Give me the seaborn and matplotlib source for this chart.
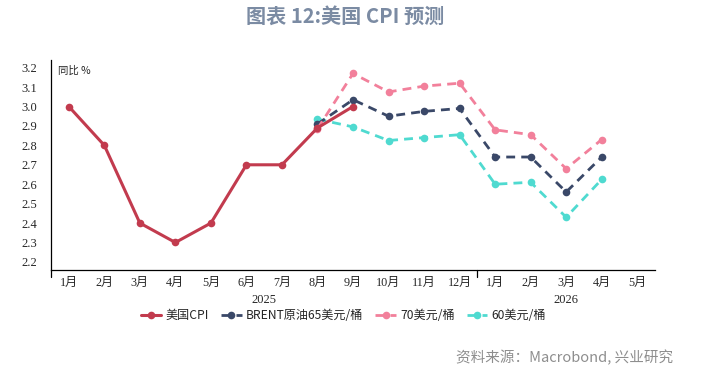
import numpy as np
import pandas as pd
import seaborn as sns
import matplotlib.pyplot as plt
import matplotlib.transforms as mtransforms

# 月份 (2025年1月 - 2026年5月)
months = ['1月', '2月', '3月', '4月', '5月', '6月', '7月', '8月', '9月', '10月', '11月', '12月',
          '1月', '2月', '3月', '4月', '5月']
years = ['2025', '2026']

# 美国CPI 实际值 (2025年1月-9月)
cpi = [3.0, 2.8, 2.4, 2.3, 2.4, 2.7, 2.7, 2.89, 3.0]
# 预测 (2025年8月 - 2026年4月)
brent65 = [2.91, 3.035, 2.95, 2.975, 2.99, 2.74, 2.74, 2.56, 2.74]
brent70 = [2.885, 3.17, 3.075, 3.105, 3.12, 2.88, 2.855, 2.68, 2.83]
brent60 = [2.935, 2.895, 2.825, 2.84, 2.855, 2.60, 2.61, 2.43, 2.625]

sns.set_style('white')
plt.rcParams['font.family'] = ['Liberation Serif', 'Noto Sans CJK SC', 'DejaVu Sans']
plt.rcParams['axes.unicode_minus'] = False

fig = plt.figure(figsize=(7.01, 3.72), dpi=100)
ax = fig.add_axes([0.0728, 0.274, 0.8616, 0.565])

x_cpi = np.arange(len(cpi))
x_fc = np.arange(7, 7 + len(brent65))

cols = {'cpi': '#C23B4E', 'b65': '#3A4868', 'b70': '#F2809B', 'b60': '#4FDAD0'}
dash = (0, (3.2, 2.2))

sns.lineplot(x=x_fc, y=brent60, ax=ax, color=cols['b60'], lw=2, marker='o', markersize=5.5,
             markeredgewidth=0, linestyle=dash, label='60美元/桶', zorder=3)
sns.lineplot(x=x_fc, y=brent65, ax=ax, color=cols['b65'], lw=2, marker='o', markersize=5.5,
             markeredgewidth=0, linestyle=dash, label='BRENT原油65美元/桶', zorder=4)
sns.lineplot(x=x_fc, y=brent70, ax=ax, color=cols['b70'], lw=2, marker='o', markersize=5.5,
             markeredgewidth=0, linestyle=dash, label='70美元/桶', zorder=5)
sns.lineplot(x=x_cpi, y=cpi, ax=ax, color=cols['cpi'], lw=2.2, marker='o', markersize=5.5,
             markeredgewidth=0, label='美国CPI', zorder=6)

ax.set_xlim(-0.5, len(months) - 0.5)
ax.set_ylim(2.158, 3.24)
ax.set_yticks(np.arange(2.2, 3.21, 0.1))
ax.set_yticklabels([f'{v:.1f}' for v in np.arange(2.2, 3.21, 0.1)], fontsize=9)
ax.set_xticks(np.arange(len(months)))
ax.set_xticklabels(months, fontsize=8.7)
ax.set_xticks(np.arange(len(months) + 1) - 0.5, minor=True)
ax.tick_params(axis='x', which='major', length=0, pad=5)
ax.tick_params(axis='x', which='minor', length=3, width=0.8, direction='out', color='black')
ax.tick_params(axis='y', length=4, width=0.8, direction='out', color='black', pad=6)

for s in ['top', 'right']:
    ax.spines[s].set_visible(False)
for s in ['left', 'bottom']:
    ax.spines[s].set_color('black')
    ax.spines[s].set_linewidth(0.9)

ax.set_xlabel('')
ax.set_ylabel('')
ax.text(0.012, 0.975, '同比 %', transform=ax.transAxes, fontsize=7.5,
        family=['Noto Sans CJK SC'], va='top', ha='left')

# 年份分组
trans = mtransforms.blended_transform_factory(ax.transData, ax.transAxes)
for xb in [-0.5, 11.5]:
    ax.plot([xb, xb], [0, -0.035], transform=trans, color='black', lw=0.9, clip_on=False)
ax.text(5.5, -0.143, years[0], transform=trans, ha='center', va='center', fontsize=9)
ax.text(14, -0.143, years[1], transform=trans, ha='center', va='center', fontsize=9)

# 图例
handles, labels = ax.get_legend_handles_labels()
order = [3, 1, 2, 0]
ax.legend([handles[i] for i in order], [labels[i] for i in order], ncol=4, frameon=False,
          loc='center', bbox_to_anchor=(0.49, 0.152), bbox_transform=fig.transFigure,
          prop={'family': ['Noto Sans CJK SC'], 'size': 8.7}, handlelength=1.7,
          handletextpad=0.35, columnspacing=1.0)

fig.text(0.492, 0.955, '图表 12:美国 CPI 预测', ha='center', va='center', fontsize=14.5,
         fontweight='bold', color='#7B8BA3', family=['Noto Sans CJK SC'])
fig.text(0.96, 0.04, '资料来源：Macrobond, 兴业研究', ha='right', va='center', fontsize=10.5,
         color='#8E8E8E', family=['Noto Sans CJK SC'])

fig.savefig('out.png', dpi=100)
